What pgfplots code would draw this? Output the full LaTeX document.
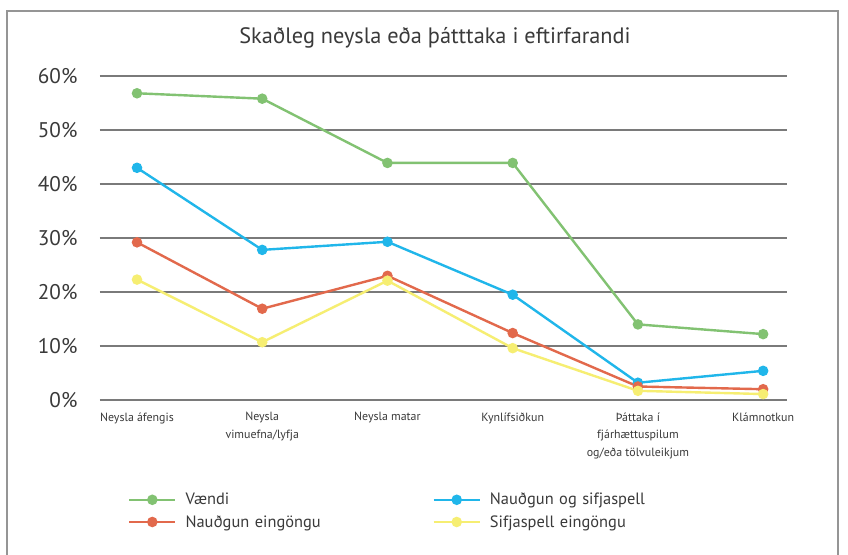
\documentclass[border=0pt]{standalone}
\usepackage{pgfplots}
\pgfplotsset{compat=1.18}
\usepackage{fontspec}
\setmainfont{PT Sans}
\definecolor{cgreen}{HTML}{82C272}
\definecolor{cblue}{HTML}{20B6EA}
\definecolor{cred}{HTML}{E2694C}
\definecolor{cyellow}{HTML}{F6EE72}
\definecolor{cgrid}{HTML}{7A7A7A}
\definecolor{ctext}{HTML}{3A3A3A}
\begin{document}
\begin{tikzpicture}[x=1pt,y=1pt]
\useasboundingbox (0,0) rectangle (848,554);
\fill[white] (0,0) rectangle (848,554);
\draw[cgrid!80,line width=1.5pt] (7,-5) -- (7,543) -- (838,543) -- (838,-5);
\node[ctext,font=\fontsize{22.3}{24}\selectfont] at (435,516) {Skaðleg neysla eða þátttaka i eftirfarandi};
\begin{axis}[
  name=ax,
  at={(137pt,154pt)}, anchor=origin,
  scale only axis, width=687pt, height=324pt,
  xmin=-0.296, xmax=5.19, ymin=0, ymax=60,
  axis line style={draw=none},
  ytick={0,10,...,60},
  yticklabel={\pgfmathprintnumber{\tick}\%},
  yticklabel style={ctext,font=\fontsize{21.2}{22}\selectfont, xshift=-19pt},
  /pgf/number format/assume math mode=true,
  xtick={0,...,5},
  xticklabels={Neysla áfengis,Neysla\\vimuefna/lyfja,Neysla matar,Kynlífsiðkun,Þáttaka í\\fjárhættuspilum\\og/eða tölvuleikjum,Klámnotkun},
  xticklabel style={ctext,font=\fontsize{11.9}{17.5}\selectfont, align=center, anchor=north, yshift=-9pt},
  major tick length=0pt,
  ymajorgrids, grid style={cgrid, line width=1.2pt},
  clip=false,
  every axis plot/.append style={line width=2.4pt, mark=*, mark size=4pt},
  legend columns=2,
  legend style={draw=none, fill=none, at={(rel axis cs:0,0)}, anchor=north west, xshift=25pt, yshift=-88pt,
    font=\fontsize{16.4}{18}\selectfont, text=ctext,
    nodes={text width=256pt, align=left, inner sep=0pt, inner ysep=3pt},
    row sep=3pt, column sep=0pt},
  legend cell align=left,
  legend image code/.code={
    \draw[#1,mark=none] (0pt,0pt) -- (46pt,0pt);
    \draw[#1,only marks] plot coordinates {(23pt,0pt)};
  },
]
\addplot[cgreen, mark options={fill=cgreen, draw=cgreen}] coordinates {(0,56.8) (1,55.8) (2,43.9) (3,43.9) (4,14.0) (5,12.2)};
\addlegendentry{\hspace{9pt}Vændi}
\addplot[cblue, mark options={fill=cblue, draw=cblue}] coordinates {(0,43.0) (1,27.8) (2,29.3) (3,19.5) (4,3.2) (5,5.4)};
\addlegendentry{\hspace{9pt}Nauðgun og sifjaspell}
\addplot[cred, mark options={fill=cred, draw=cred}] coordinates {(0,29.2) (1,16.9) (2,23.0) (3,12.4) (4,2.5) (5,2.0)};
\addlegendentry{\hspace{9pt}Nauðgun eingöngu}
\addplot[cyellow, mark options={fill=cyellow, draw=cyellow}] coordinates {(0,22.3) (1,10.7) (2,22.1) (3,9.6) (4,1.7) (5,1.1)};
\addlegendentry{\hspace{9pt}Sifjaspell eingöngu}
\end{axis}
\end{tikzpicture}
\end{document}
